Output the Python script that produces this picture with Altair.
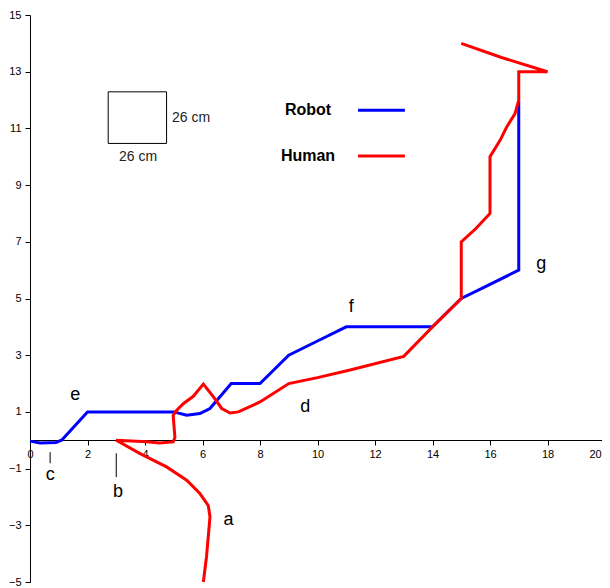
import altair as alt
import pandas as pd

# Robot trajectory
robot_x = [0, 0.35, 0.9, 1.1, 2, 5, 5.45, 5.91, 6.26, 7, 8, 9, 10, 11, 14, 15, 15.7, 17, 17]
robot_y = [-0.03, -0.1, -0.08, 0, 1, 1, 0.88, 0.94, 1.12, 2, 2, 3, 3.5, 4, 4, 5, 5.35, 6, 12]

# Human trajectory
human_x = [6.03, 6.14, 6.26, 6.2, 5.91, 5.45, 4.75, 3.83, 3, 4.06, 4.5, 4.98, 5.04, 4.98,
           5.08, 5.33, 5.68, 6.03, 6.38, 6.67, 6.96, 7.25, 8, 9, 10, 11.1, 13, 14, 15, 15,
           15.5, 16, 16, 16.35, 16.58, 16.87, 17, 17, 18, 16.4, 15]
human_y = [-5, -4.1, -2.7, -2.3, -1.88, -1.41, -0.94, -0.47, 0, -0.05, -0.1, -0.06, 0.1, 0.88,
           1.03, 1.29, 1.55, 1.98, 1.53, 1.12, 0.96, 1.0, 1.35, 2, 2.21, 2.47, 2.96, 4, 5, 7,
           7.46, 8, 10, 10.58, 11.05, 11.52, 12, 13, 13, 13.5, 14]

# Point labels
point_labels = ["a", "b", "c", "d", "e", "f", "g"]
point_label_x = [6.9, 3.06, 0.7, 9.57, 1.57, 11.17, 17.78]
point_label_y = [-2.82, -1.83, -1.23, 1.16, 1.59, 4.69, 6.21]

# Marker ticks for b and c
marker_x = [0.7, 3.0]
marker_y1 = [-0.42, -0.46]
marker_y2 = [-0.81, -1.3]

# Legend
legend_names = ["Robot", "Human"]
legend_colors = ["#0000FF", "#FF0000"]
legend_text_x = [9.67, 9.67]
legend_y = [11.64, 10.03]
legend_line_x1 = [11.41, 11.41]
legend_line_x2 = [13.04, 13.04]

# Scale square
square_x = [2.72]
square_x2 = [4.75]
square_y = [10.47]
square_y2 = [12.29]
scale_texts = ["26 cm", "26 cm"]
scale_text_x = [4.94, 3.76]
scale_text_y = [11.36, 9.98]

XS = alt.Scale(domain=[0, 20], nice=False, zero=False)
YS = alt.Scale(domain=[-5, 15], nice=False, zero=False)

x_axis = alt.Axis(values=list(range(0, 21, 2)), offset=-142, tickSize=5, grid=False,
                  title=None, labelFont="Liberation Sans", labelFontSize=11,
                  labelColor="black", domainColor="black", tickColor="black",
                  labelPadding=3, labelFlush=False,
                  labelOffset={"condition": {"test": "datum.value == 20", "value": -10},
                               "value": 0})
y_axis = alt.Axis(values=list(range(-5, 16, 2)), tickSize=5, grid=False, title=None,
                  labelFont="Liberation Sans", labelFontSize=11, labelColor="black",
                  domainColor="black", tickColor="black", labelPadding=4, labelFlush=False)


def X(f):
    return alt.X(f, scale=XS, axis=x_axis)


def Y(f):
    return alt.Y(f, scale=YS, axis=y_axis)


robot_df = pd.DataFrame({"x": robot_x, "y": robot_y, "i": range(len(robot_x))})
human_df = pd.DataFrame({"x": human_x, "y": human_y, "i": range(len(human_x))})

robot = alt.Chart(robot_df).mark_line(color="#0000FF", strokeWidth=3).encode(
    x=X("x:Q"), y=Y("y:Q"), order="i:Q")
human = alt.Chart(human_df).mark_line(color="#FF0000", strokeWidth=3).encode(
    x=X("x:Q"), y=Y("y:Q"), order="i:Q")

lab_df = pd.DataFrame({"t": point_labels, "x": point_label_x, "y": point_label_y})
labels = alt.Chart(lab_df).mark_text(font="Liberation Sans", fontSize=18, color="black",
                                     align="center", baseline="middle").encode(
    x=X("x:Q"), y=Y("y:Q"), text="t:N")

mk_df = pd.DataFrame({"x": marker_x, "y": marker_y1, "y2": marker_y2})
markers = alt.Chart(mk_df).mark_rule(color="black", strokeWidth=1).encode(
    x=X("x:Q"), y=Y("y:Q"), y2="y2:Q")

leg_df = pd.DataFrame({"t": legend_names, "c": legend_colors, "x": legend_text_x,
                       "x1": legend_line_x1, "x2": legend_line_x2, "y": legend_y})
leg_text = alt.Chart(leg_df).mark_text(font="Liberation Sans", fontSize=16, fontWeight="bold",
                                       color="black", align="center", baseline="middle").encode(
    x=X("x:Q"), y=Y("y:Q"), text="t:N")
leg_lines = alt.Chart(leg_df).mark_rule(strokeWidth=3).encode(
    x=X("x1:Q"), x2="x2:Q", y=Y("y:Q"),
    color=alt.Color("c:N", scale=None, legend=None))

sq_df = pd.DataFrame({"x": square_x, "x2": square_x2, "y": square_y, "y2": square_y2})
square = alt.Chart(sq_df).mark_rect(filled=False, stroke="black", strokeWidth=1).encode(
    x=X("x:Q"), x2="x2:Q", y=Y("y:Q"), y2="y2:Q")

st_df = pd.DataFrame({"t": scale_texts, "x": scale_text_x, "y": scale_text_y})
scale_left = alt.Chart(st_df.iloc[[0]]).mark_text(font="Liberation Sans", fontSize=14,
                                                  color="#222222", align="left",
                                                  baseline="middle").encode(
    x=X("x:Q"), y=Y("y:Q"), text="t:N")
scale_bottom = alt.Chart(st_df.iloc[[1]]).mark_text(font="Liberation Sans", fontSize=14,
                                                    color="#222222", align="center",
                                                    baseline="middle").encode(
    x=X("x:Q"), y=Y("y:Q"), text="t:N")

chart = alt.layer(robot, human, markers, labels, leg_lines, leg_text, square,
                  scale_left, scale_bottom).properties(
    width=575, height=567,
    autosize=alt.AutoSizeParams(type="none"),
    padding={"left": 22, "top": 7, "right": -3, "bottom": 6},
    background="white",
).configure_view(stroke=None)

chart.save("out.html", embed_options={"renderer": "svg", "actions": False})
